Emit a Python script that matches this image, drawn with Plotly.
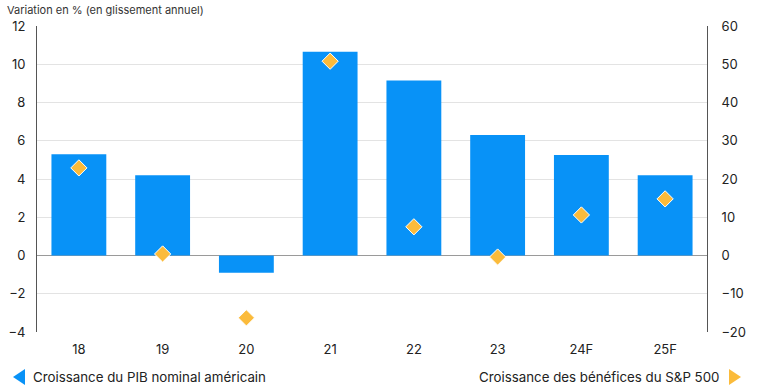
import plotly.graph_objects as go

categories = ["18", "19", "20", "21", "22", "23", "24F", "25F"]
pib_growth = [5.3, 4.2, -0.9, 10.65, 9.15, 6.3, 5.25, 4.2]
sp500_growth = [22.9, 0.4, -16.3, 50.8, 7.5, -0.4, 10.6, 14.8]

left_ticks = [-4, -2, 0, 2, 4, 6, 8, 10, 12]
right_ticks = [-20, -10, 0, 10, 20, 30, 40, 50, 60]

BLUE = "#0892F7"
ORANGE = "#FBBB3B"
FONT = "Inter, Roboto, sans-serif"

W, H = 760, 389
L, R, T, B = 37, 53, 26, 57

fig = go.Figure()
fig.add_trace(go.Bar(x=categories, y=pib_growth, marker=dict(color=BLUE, line=dict(width=0)),
                     name="Croissance du PIB nominal américain", yaxis="y"))
fig.add_trace(go.Scatter(x=categories, y=sp500_growth, mode="markers", yaxis="y2",
                         marker=dict(symbol="diamond", size=12.5, color=ORANGE, line=dict(color="white", width=1)),
                         name="Croissance des bénéfices du S&P 500"))

pw = W - L - R
ph = H - T - B
def px(xp):
    return (xp - L) / pw
def py(yp):
    return (H - B - yp) / ph

fig.update_layout(
    width=W, height=H,
    margin=dict(l=L, r=R, t=T, b=B),
    paper_bgcolor="white", plot_bgcolor="white",
    showlegend=False,
    bargap=0.345,
    font=dict(family=FONT, size=13, color="#222"),
    xaxis=dict(showgrid=False, showline=False, ticks="", tickfont=dict(size=13),
               ticklabelstandoff=8, automargin=False),
    yaxis=dict(range=[-4, 12], tickvals=left_ticks, showgrid=True, gridcolor="#E3E3E3",
               zeroline=True, zerolinecolor="#9A9A9A", zerolinewidth=1,
               showline=True, linecolor="#555", linewidth=1, ticks="", tickfont=dict(size=13),
               ticklabelstandoff=8, automargin=False),
    yaxis2=dict(range=[-20, 60], tickvals=right_ticks, overlaying="y", side="right",
                showgrid=False, zeroline=False, showline=True, linecolor="#555", linewidth=1,
                ticks="", tickfont=dict(size=13), ticklabelstandoff=11, automargin=False),
    annotations=[
        dict(text="Variation en % (en glissement annuel)", x=px(5), y=py(10), xref="paper", yref="paper",
             xanchor="left", yanchor="middle", showarrow=False, font=dict(size=11, color="#333")),
        dict(text="Croissance du PIB nominal américain", xref="paper", yref="paper",
             x=px(31), y=py(377), xanchor="left", yanchor="middle", showarrow=False,
             font=dict(size=13.3, color="#222")),
        dict(text="Croissance des bénéfices du S&P 500", xref="paper", yref="paper",
             x=px(721), y=py(377), xanchor="right", yanchor="middle", showarrow=False,
             font=dict(size=13.3, color="#222")),
    ],
    shapes=[
        dict(type="path", xref="paper", yref="paper",
             path=f"M {px(13)} {py(377)} L {px(25)} {py(369)} L {px(25)} {py(385)} Z",
             fillcolor=BLUE, line=dict(width=0)),
        dict(type="path", xref="paper", yref="paper",
             path=f"M {px(741)} {py(377)} L {px(729)} {py(369)} L {px(729)} {py(385)} Z",
             fillcolor=ORANGE, line=dict(width=0)),
    ],
)

fig.write_html("out.html", config={"displayModeBar": False},
               post_script="document.body.style.margin='0';document.body.style.overflow='hidden';")
